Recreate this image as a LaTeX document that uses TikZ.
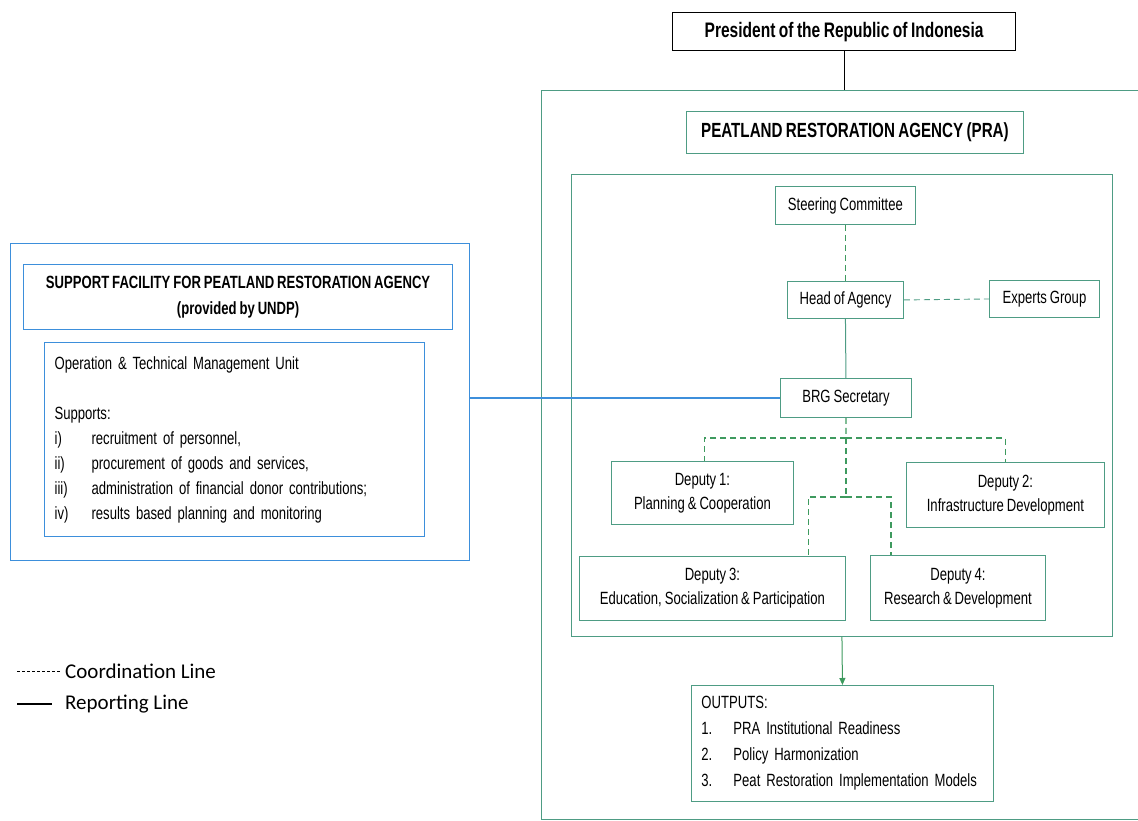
\documentclass[tikz,border=0pt]{standalone}
\usepackage{fontspec}
\setmainfont{Liberation Sans}[FakeStretch=0.74, WordSpace=0.8]
\newfontfamily\legfont{Carlito}
\usetikzlibrary{arrows.meta,calc}
\definecolor{grn}{HTML}{4E9C84}
\definecolor{dgrn}{HTML}{3E9A5E}
\definecolor{blu}{HTML}{3D8FDB}
\begin{document}
\begin{tikzpicture}[x=1pt,y=-1pt,
  box/.style={draw=grn, line width=0.9pt, inner sep=0pt, align=center, anchor=north west,
    font=\fontsize{17.7}{24}\selectfont},
  bbox/.style={box, draw=blu, line width=1.2pt},
  coordl/.style={dgrn, line width=1.1pt, dash pattern=on 6pt off 4pt},
  rep/.style={grn, line width=1pt},
  legtxt/.style={anchor=west, inner sep=0pt, font=\legfont\fontsize{21}{24}\selectfont}]
\useasboundingbox (0,0) rectangle (1138,821);
\clip (0,0) rectangle (1138,821);

% President and agency containers
\node[box, draw=black, line width=1.2pt, minimum width=343, minimum height=38,
  font=\bfseries\fontsize{21}{24}\selectfont] (pres) at (672,12) {President of the Republic of Indonesia};
\node[box, line width=0.8pt, minimum width=640, minimum height=729] (outer) at (541,90) {};
\node[box, minimum width=337, minimum height=42,
  font=\bfseries\fontsize{20.5}{24}\selectfont] (pra) at (686,111) {PEATLAND RESTORATION AGENCY (PRA)};
\node[box, minimum width=541, minimum height=462] (inner) at (571,174) {};

% agency units
\node[box, minimum width=140, minimum height=38] (sc) at (775,186) {Steering Committee};
\node[box, minimum width=116, minimum height=37] (head) at (787,281) {Head of Agency};
\node[box, minimum width=110, minimum height=37] (exp) at (989,280) {Experts Group};
\node[box, minimum width=131, minimum height=39] (brg) at (780,378) {BRG Secretary};
\node[box, minimum width=182, minimum height=63] (d1) at (611,461) {Deputy 1:\\Planning \& Cooperation};
\node[box, minimum width=198, minimum height=65] (d2) at (906,462) {Deputy 2:\\Infrastructure Development};
\node[box, minimum width=266, minimum height=64] (d3) at (579,556) {Deputy 3:\\Education, Socialization \& Participation};
\node[box, minimum width=175, minimum height=65] (d4) at (870,555) {Deputy 4:\\Research \& Development};

% outputs
\node[box, minimum width=302, minimum height=116, text width=282, align=left,
  font=\fontsize{17.7}{26}\selectfont] (out) at (691,685)
  {OUTPUTS:\\
   \makebox[32pt][l]{1.}PRA Institutional Readiness\\
   \makebox[32pt][l]{2.}Policy Harmonization\\
   \makebox[32pt][l]{3.}Peat Restoration Implementation Models};

% support facility
\node[bbox, minimum width=459, minimum height=317] (sup) at (10,243) {};
\node[bbox, minimum width=429, minimum height=65,
  font=\bfseries\fontsize{17.7}{26}\selectfont] (suptitle) at (23,264)
  {SUPPORT FACILITY FOR PEATLAND RESTORATION AGENCY\\(provided by UNDP)};
\node[bbox, minimum width=380, minimum height=194, text width=360, align=left,
  font=\fontsize{17.7}{25}\selectfont] (unit) at (44,342)
  {Operation \& Technical Management Unit\\
   \mbox{}\\
   Supports:\\
   \makebox[37pt][l]{i)}recruitment of personnel,\\
   \makebox[37pt][l]{ii)}procurement of goods and services,\\
   \makebox[37pt][l]{iii)}administration of financial donor contributions;\\
   \makebox[37pt][l]{iv)}results based planning and monitoring};

% connectors
\draw[black, line width=1.2pt] (pres.south) -- (pres.south |- outer.north);
\draw[coordl, line width=0.9pt] (sc.south) -- (head.north);
\draw[coordl, line width=0.9pt, grn] (head.east) -- (exp.west);
\draw[rep] (head.south) -- (brg.north);
\coordinate (j1) at (846,438);
\coordinate (j2) at (846,497);
\draw[coordl] (brg.south) -- (j1);
\draw[coordl] (j1) -| ([xshift=2pt]d1.north);
\draw[coordl] (j1) -| (d2.north);
\draw[coordl] (j1) -- (j2);
\draw[coordl] (j2) -| ([xshift=96pt]d3.north);
\draw[coordl] (j2) -| ([xshift=-67pt]d4.north);
\draw[rep, dgrn, -{Triangle[length=7pt,width=6pt]}] (inner.south) -- (out.north);
\draw[blu, line width=1.8pt] (sup.east |- brg.west) -- (brg.west);

% legend
\coordinate (lc1) at (17,671);
\coordinate (lc2) at (60,671);
\coordinate (lr1) at (17,704);
\coordinate (lr2) at (52,704);
\draw[black, line width=0.8pt, dash pattern=on 3pt off 2pt] (lc1) -- (lc2);
\draw[black, line width=1.2pt] (lr1) -- (lr2);
\node[legtxt] (lct) at (65,671) {Coordination Line};
\node[legtxt] (lrt) at (65,704) {Reporting Line};
\end{tikzpicture}
\end{document}
